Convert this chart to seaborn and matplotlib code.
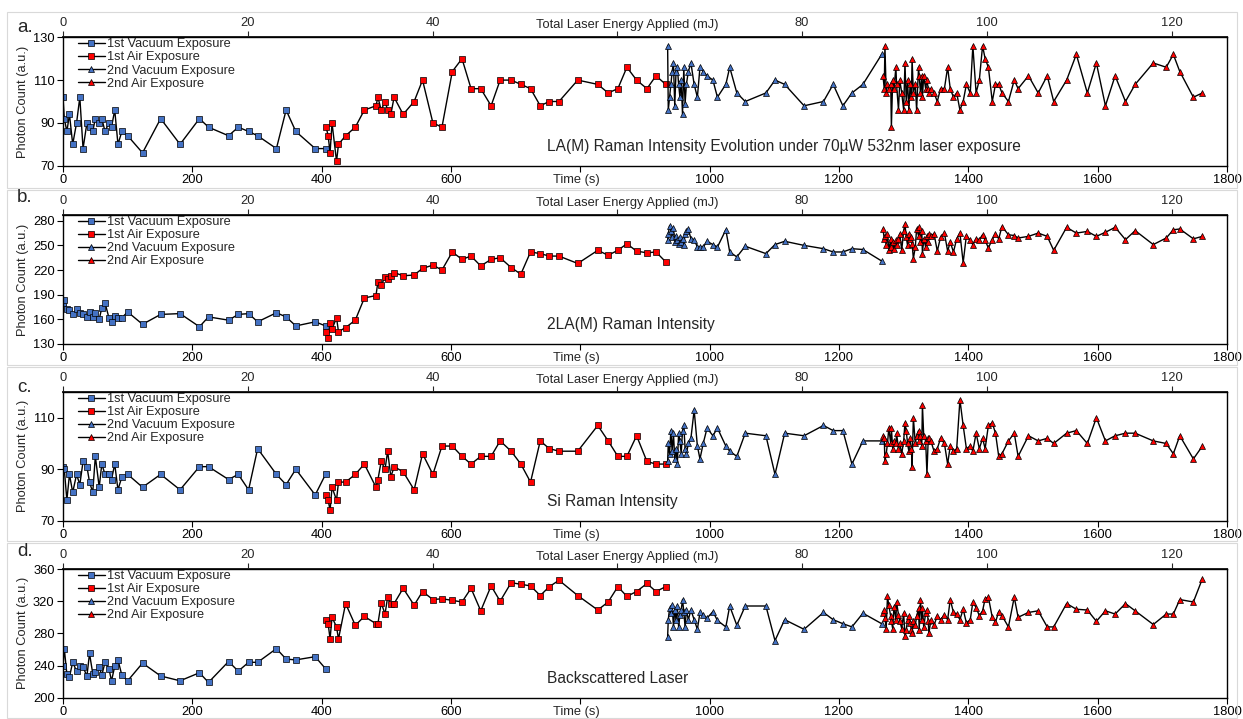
import matplotlib
matplotlib.use("Agg")
import matplotlib.pyplot as plt
import pandas as pd
import seaborn as sns
from matplotlib.patches import Rectangle

# ---------------- measurement times (s) ----------------
t_vac1 = [0, 2, 6, 10, 15, 21, 26, 31, 37, 41, 46, 50, 56, 60, 65, 71, 75, 80, 85, 91,
          100, 123, 151, 181, 211, 225, 256, 271, 287, 301, 330, 345, 360, 390, 406]
t_air1 = [407, 410, 413, 416, 423, 426, 437, 452, 466, 484, 487, 492, 498, 502, 507, 512,
          526, 543, 556, 572, 586, 602, 617, 631, 646, 662, 676, 693, 708, 723, 738, 752,
          767, 796, 827, 843, 858, 872, 887, 903, 917, 932]
t_vac2 = [935, 936, 938, 940, 942, 944, 946, 948, 950, 952, 954, 956, 958, 960, 962, 964,
          967, 971, 976, 981, 985, 990, 996, 1005, 1012, 1025, 1031, 1042, 1055, 1087,
          1101, 1116, 1146, 1176, 1191, 1206, 1220, 1237, 1266]
t_air2 = [1268, 1270, 1271, 1273, 1275, 1277, 1280, 1281, 1283, 1285, 1288, 1289, 1292,
          1294, 1297, 1300, 1302, 1304, 1306, 1308, 1310, 1312, 1313, 1315, 1318, 1320,
          1323, 1324, 1326, 1328, 1329, 1331, 1334, 1336, 1338, 1339,
          1342, 1347, 1352, 1357, 1363, 1368, 1372, 1377, 1382, 1387, 1392, 1397, 1403,
          1407, 1412, 1417, 1422, 1426, 1431, 1437, 1442, 1447, 1452, 1462, 1471, 1477,
          1493, 1508, 1522, 1532, 1552, 1567, 1584, 1598, 1612, 1627, 1643, 1658, 1686,
          1706, 1717, 1727, 1748, 1762]

# ---------------- a. LA(M) Raman intensity ----------------
la_vac1 = [102, 92, 86, 94, 80, 90, 102, 78, 90, 88, 86, 92, 90, 92, 86, 90, 88, 96, 80, 86,
           84, 76, 92, 80, 92, 88, 84, 88, 86, 84, 78, 96, 86, 78, 78]
la_air1 = [88, 84, 76, 90, 72, 80, 84, 88, 96, 98, 102, 96, 100, 96, 94, 102, 94, 100, 110,
           90, 88, 114, 120, 106, 106, 98, 110, 110, 108, 106, 98, 100, 100, 110, 108, 104,
           106, 116, 110, 106, 112, 108]
la_vac2 = [126, 96, 102, 108, 114, 118, 98, 114, 116, 108, 102, 110, 94, 116, 99, 108, 114,
           118, 108, 102, 116, 114, 112, 110, 102, 108, 116, 104, 100, 104, 110, 108, 98,
           100, 108, 98, 104, 108, 122]
la_air2 = [112, 106, 126, 104, 108, 106, 108, 88, 110, 106, 116, 108, 96, 110, 104, 96, 118,
           100, 110, 96, 108, 102, 120, 104, 108, 96, 116, 112, 104, 112, 102, 112, 106, 110,
           106, 104,
           106, 104, 100, 106, 106, 116, 106, 102, 104, 96, 100, 108, 104, 126, 104, 110,
           126, 120, 116, 100, 108, 108, 104, 100, 110, 106, 112, 104, 112, 100, 110, 122,
           104, 118, 98, 112, 100, 108, 118, 116, 122, 114, 102, 104]

# ---------------- b. 2LA(M) Raman intensity ----------------
lb_vac1 = [180, 183, 172, 171, 166, 172, 168, 166, 163, 169, 163, 168, 160, 174, 180, 162,
           157, 164, 162, 162, 169, 154, 166, 167, 151, 163, 159, 166, 167, 157, 168, 163,
           152, 157, 152]
lb_air1 = [145, 137, 156, 148, 162, 145, 150, 159, 186, 189, 206, 202, 211, 209, 213, 217,
           213, 214, 222, 226, 220, 242, 233, 237, 225, 233, 235, 223, 215, 242, 240, 237,
           237, 228, 244, 238, 244, 252, 243, 241, 242, 230]
lb_vac2 = [256, 264, 274, 268, 260, 271, 254, 262, 257, 252, 260, 254, 258, 250, 264, 268,
           270, 258, 257, 248, 248, 248, 255, 251, 248, 269, 242, 236, 249, 240, 251, 255,
           250, 246, 242, 242, 246, 245, 231]
lb_air2 = [270, 258, 262, 250, 264, 244, 258, 248, 254, 246, 256, 250, 258, 264, 244, 268,
           276, 260, 250, 264, 258, 260, 252, 234, 248, 270, 262, 272, 254, 268, 240, 258,
           248, 262, 254, 264,
           262, 264, 243, 260, 265, 243, 254, 242, 258, 265, 229, 262, 256, 251, 258, 257,
           263, 256, 247, 257, 264, 258, 273, 263, 262, 259, 261, 265, 261, 244, 272, 265,
           267, 261, 266, 272, 257, 268, 251, 259, 269, 270, 258, 261]

# ---------------- c. Si Raman intensity ----------------
lc_vac1 = [91, 90, 78, 88, 81, 88, 84, 93, 91, 85, 81, 95, 83, 92, 88, 88, 86, 92, 82, 87,
           88, 83, 88, 82, 91, 91, 86, 88, 82, 98, 88, 84, 90, 80, 88]
lc_air1 = [80, 78, 74, 83, 78, 85, 85, 88, 92, 83, 86, 93, 90, 97, 87, 91, 89, 82, 96, 88,
           99, 99, 95, 92, 95, 95, 101, 97, 92, 85, 101, 98, 97, 97, 107, 101, 95, 95, 103,
           93, 92, 92]
lc_vac2 = [93, 100, 96, 105, 97, 104, 94, 98, 92, 104, 101, 96, 105, 107, 98, 96, 100, 102,
           113, 99, 94, 100, 106, 103, 106, 99, 97, 95, 104, 103, 88, 104, 103, 107, 105,
           105, 92, 101, 101]
lc_air2 = [103, 102, 93, 96, 100, 106, 100, 106, 98, 101, 100, 104, 98, 100, 96, 101, 108,
           105, 100, 97, 102, 98, 91, 110, 100, 103, 105, 101, 103, 99, 115, 103, 101, 88,
           102, 102,
           101, 97, 98, 102, 100, 92, 99, 97, 98, 117, 107, 98, 99, 97, 104, 98, 102, 98,
           107, 108, 104, 95, 96, 101, 104, 95, 103, 101, 102, 100, 104, 105, 100, 110, 101,
           103, 104, 104, 101, 100, 96, 103, 94, 99]

# ---------------- d. Backscattered laser ----------------
ld_vac1 = [239, 261, 229, 226, 244, 233, 239, 238, 227, 255, 230, 232, 238, 228, 244, 236,
           221, 239, 247, 228, 221, 243, 227, 221, 231, 219, 245, 233, 244, 244, 261, 248,
           247, 251, 236]
ld_air1 = [296, 292, 273, 300, 288, 273, 317, 290, 301, 292, 292, 318, 304, 325, 316, 317,
           336, 315, 332, 322, 323, 321, 319, 336, 308, 339, 320, 343, 341, 339, 327, 338,
           346, 327, 309, 319, 338, 326, 332, 342, 332, 338]
ld_vac2 = [276, 297, 311, 305, 315, 288, 309, 297, 314, 288, 303, 309, 322, 307, 288, 309,
           297, 309, 297, 285, 306, 303, 299, 307, 296, 288, 314, 290, 314, 314, 271, 297,
           285, 306, 297, 292, 288, 305, 292]
ld_air2 = [305, 309, 299, 286, 326, 315, 301, 295, 286, 313, 297, 319, 303, 295, 286, 305,
           277, 284, 297, 301, 293, 284, 281, 295, 290, 301, 311, 284, 322, 297, 311, 288,
           305, 309, 295, 280,
           296, 290, 302, 297, 303, 297, 322, 306, 304, 297, 310, 293, 297, 319, 312, 302,
           308, 323, 325, 300, 294, 307, 302, 288, 325, 300, 306, 308, 288, 288, 317, 310,
           309, 295, 308, 304, 317, 308, 291, 304, 304, 322, 319, 348]

series_names = ["1st Vacuum Exposure", "1st Air Exposure",
                "2nd Vacuum Exposure", "2nd Air Exposure"]
panel_letters = ["a.", "b.", "c.", "d."]
panel_titles = ["LA(M) Raman Intensity Evolution under 70\u00b5W 532nm laser exposure",
                "2LA(M) Raman Intensity", "Si Raman Intensity", "Backscattered Laser"]
panel_ylims = [(70, 130), (130, 287), (70, 120), (200, 360)]
panel_yticks = [[70, 90, 110, 130], [130, 160, 190, 220, 250, 280],
                [70, 90, 110], [200, 240, 280, 320, 360]]
time_ticks = [0, 200, 400, 600, 800, 1000, 1200, 1400, 1600, 1800]
# the 800 s and 60 mJ labels sit under the axis titles
time_tick_labels = ["0", "200", "400", "600", "", "1000", "1200", "1400", "1600", "1800"]
energy_ticks = [0, 20, 40, 60, 80, 100, 120]
energy_tick_labels = ["0", "20", "40", "", "80", "100", "120"]
laser_power_mW = 0.07  # 70 uW -> mJ per second

panel_values = [
    [la_vac1, la_air1, la_vac2, la_air2],
    [lb_vac1, lb_air1, lb_vac2, lb_air2],
    [lc_vac1, lc_air1, lc_vac2, lc_air2],
    [ld_vac1, ld_air1, ld_vac2, ld_air2],
]
series_times = [t_vac1, t_air1, t_vac2, t_air2]

BLUE = "#4472C4"
RED = "#FF0000"
styles = [("s", BLUE, 3.9), ("s", RED, 3.9), ("^", BLUE, 4.4), ("^", RED, 4.4)]

sns.set_theme(style="ticks")
plt.rcParams["font.family"] = ["Liberation Sans", "DejaVu Sans"]

W, H = 1243, 719
fig = plt.figure(figsize=(W / 100, H / 100), dpi=100)
fig.patch.set_facecolor("white")

# plot-area boxes in pixel rows (top, bottom); x from 63 to 1227
boxes = [(37.3, 165.7), (215.0, 344.0), (392.0, 520.7), (569.0, 697.7)]
letter_rows = [27, 198, 388, 552]
frames = [(12, 188), (190, 365), (367, 541), (543, 718)]

FS = 9.3

for i in range(4):
    top, bot = boxes[i]
    fr_top, fr_bot = frames[i]
    fig.patches.append(Rectangle((7 / W, 1 - fr_bot / H), (1237 - 7) / W,
                                 (fr_bot - fr_top) / H, transform=fig.transFigure,
                                 fill=False, edgecolor="#d9d9d9", linewidth=0.8))
    ax = fig.add_axes([63 / W, 1 - bot / H, 1164 / W, (bot - top) / H])
    for name, t, v, (mk, col, ms) in zip(series_names, series_times,
                                         panel_values[i], styles):
        df = pd.DataFrame({"Time (s)": t, "Photon Count": v})
        sns.lineplot(data=df, x="Time (s)", y="Photon Count", ax=ax, sort=False,
                     estimator=None, color="black", linewidth=1.0, marker=mk,
                     markersize=ms, markerfacecolor=col, markeredgecolor="black",
                     markeredgewidth=0.5, label=name)

    ax.set_xlim(0, 1800)
    ax.set_ylim(*panel_ylims[i])
    ax.set_xticks(time_ticks)
    ax.set_xticklabels(time_tick_labels)
    ax.set_yticks(panel_yticks[i])
    ax.set_xlabel("")
    ax.set_ylabel("Photon Count (a.u.)", fontsize=FS)
    ax.yaxis.set_label_coords(-0.029, 0.5)
    ax.tick_params(axis="both", direction="out", length=4, width=0.8,
                   labelsize=FS, pad=2, colors="black")
    for sp in ax.spines.values():
        sp.set_visible(True)
        sp.set_linewidth(1.0)
        sp.set_color("black")

    sec = ax.secondary_xaxis("top", functions=(lambda s: s * laser_power_mW,
                                               lambda e: e / laser_power_mW))
    sec.set_xticks(energy_ticks)
    sec.set_xticklabels(energy_tick_labels)
    sec.tick_params(direction="out", length=4, width=0.8, labelsize=FS, pad=2)
    sec.spines["top"].set_linewidth(1.4)

    # axis titles sit on the tick-label rows
    ax.annotate("Total Laser Energy Applied (mJ)", xy=(0.485, 1.0),
                xycoords="axes fraction", xytext=(0, 12 * 0.72),
                textcoords="offset points", ha="center", va="center", fontsize=FS)
    ax.annotate("Time (s)", xy=(0.4407, 0.0), xycoords="axes fraction",
                xytext=(0, -14 * 0.72), textcoords="offset points", ha="center",
                va="center", fontsize=FS)

    ax.text(0.4155, 0.15, panel_titles[i], transform=ax.transAxes, ha="left",
            va="center", fontsize=11.2)

    handles, labels = ax.get_legend_handles_labels()
    ax.legend(handles, labels, loc="upper left", bbox_to_anchor=(0.0129, 0.992),
              frameon=False, fontsize=9.2, handlelength=2.1, handletextpad=0.15,
              labelspacing=0.09, borderpad=0, borderaxespad=0)

    fig.text(17 / W, 1 - letter_rows[i] / H, panel_letters[i], fontsize=13.5,
             ha="left", va="center")

fig.savefig("out.png", dpi=100, facecolor="white")
